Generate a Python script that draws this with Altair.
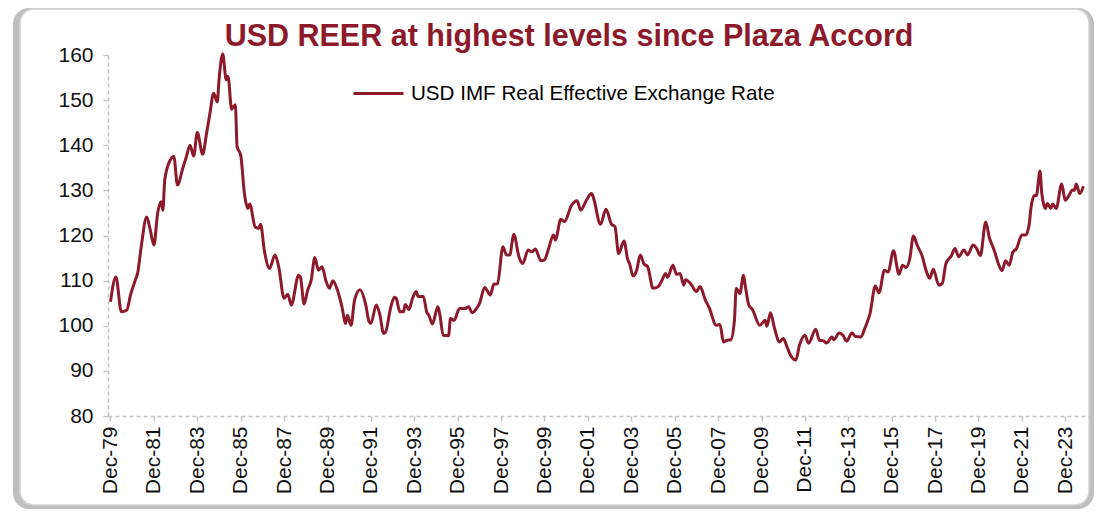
import altair as alt
import pandas as pd

# ---- data (months after Dec-1979, index value) ----
month_offsets = [
    0, 3, 6, 9, 11, 14, 15, 17, 20, 22, 24, 26, 28, 29, 30, 33, 35, 37, 40, 42, 44, 46, 48,
    51, 53, 55, 57, 59, 60, 62, 64, 65, 67, 69, 70, 72,
    74, 76, 77, 80, 82, 83, 85, 88, 91, 93, 96, 98, 100, 104, 105, 107, 109, 111, 113, 115,
    117, 119, 121, 123, 125, 128, 130, 131, 133, 135, 138, 141, 143, 144,
    147, 149, 151, 152, 155, 157, 158, 160, 162, 163, 165, 167, 169, 170, 173, 175, 176, 178,
    181, 182, 184, 187, 188, 190, 193, 196, 198, 200, 202, 204, 207, 210, 212, 214,
    217, 219, 221, 222, 223, 226, 228, 231, 233, 235, 238, 240, 242, 245, 246, 249, 251, 255,
    258, 260, 263, 266, 267, 271, 274, 277, 279, 281, 284, 286, 287,
    289, 291, 293, 295, 297, 300, 303, 305, 307, 308, 311, 313, 315, 317, 318, 321, 324, 326,
    329, 331, 335, 337, 339, 341, 343, 345, 346, 348, 350, 351, 353, 355, 359,
    362, 363, 365, 367, 370, 372, 374, 376, 379, 381, 384, 386, 390, 392, 394, 396, 399, 400,
    403, 405, 407, 410, 412, 415, 417, 420, 423, 425, 428, 430,
    433, 436, 438, 440, 442, 444, 446, 449, 451, 453, 455, 458, 460, 462, 465, 467, 469, 472,
    474, 477, 479, 481, 484, 486, 488, 489, 491, 493, 495, 497, 499, 501, 504, 506, 508, 509,
    511, 512, 514, 515, 517, 518, 520, 521, 523, 526, 528, 530, 532, 533, 534, 536, 538,
]
reer_values = [
    105.3, 110.8, 103.1, 103.5, 106.8, 110.5, 111.6, 117.5, 124.1, 121.2, 117.9, 124.9, 127.5,
    125.6, 132.3, 136.7, 137.5, 131.2, 134.9, 137.5, 140.0, 137.6, 142.8,
    138.0, 142.3, 147.1, 151.5, 149.6, 154.5, 160.2, 154.5, 155.3, 148.0, 149.0, 139.7, 137.8,
    129.3, 126.0, 127.0, 121.9, 121.6, 122.5, 116.8, 112.7, 115.7, 113.1, 106.1, 107.0, 104.6,
    111.2, 110.8, 104.8, 107.9, 110.1, 115.1, 112.3,
    113.1, 110.1, 108.3, 110.0, 108.5, 104.2, 100.5, 102.3, 100.1, 105.7, 108.0, 104.9, 100.9, 100.5,
    104.6, 102.4, 98.3, 98.5, 104.2, 106.3, 106.0, 103.1, 103.1, 104.7, 103.6, 106.1, 107.6,
    106.5, 106.5, 102.9, 102.4, 100.4,
    104.2, 102.7, 97.9, 97.8, 101.6, 101.2, 103.8, 103.8, 104.2, 102.9, 103.6, 104.9, 108.5,
    106.8, 109.2, 109.3,
    117.5, 115.7, 115.7, 118.3, 120.3, 115.1, 113.8, 116.8, 116.4, 117.0, 114.4, 114.6, 116.8,
    120.1, 119.0, 123.6, 123.1, 126.7,
    127.7, 125.6, 127.7, 129.3, 128.5, 122.5, 125.8, 122.5, 122.0, 116.0, 118.8, 114.7, 113.8,
    111.0, 112.3, 115.7, 113.7, 113.1, 108.3, 108.7, 110.1, 111.6, 110.7, 113.4, 111.4, 111.6,
    109.0, 110.2, 109.2, 107.6, 108.7,
    105.7, 104.1, 100.1, 100.3, 96.4, 96.8, 96.9, 101.2, 108.3, 107.1, 111.2, 109.0, 104.6,
    103.6, 100.1,
    101.2, 99.9, 102.9, 99.8, 96.4, 97.2, 95.4, 93.5, 92.4, 95.7, 97.9, 96.1, 99.2, 96.8, 96.7,
    96.2, 97.5, 96.9,
    98.4, 97.9, 96.6, 98.4, 97.6, 97.5, 99.3, 102.7, 108.8, 107.3, 112.3, 111.9,
    116.6, 111.4, 113.4, 112.9, 114.9, 119.9, 117.9, 115.3, 112.3, 110.5, 112.5, 109.0, 109.4,
    113.8, 115.5, 117.1, 115.3, 116.8,
    115.7, 117.9, 117.1, 115.5, 123.0, 119.5, 117.4, 116.3, 113.7, 112.2, 114.4, 113.4, 116.3,
    117.1, 120.1, 120.1, 122.3, 126.0,
    128.9, 128.8, 134.3, 129.3, 126.0, 127.1, 126.0, 127.0, 126.0, 131.4, 127.8, 128.9, 130.1,
    130.0, 131.4, 129.3, 130.9,
]
assert len(month_offsets) == len(reer_values)

tick_years = list(range(1979, 2024, 2))      # Dec-79, Dec-81, ... Dec-23
y_ticks = list(range(80, 161, 10))
series_name = "USD IMF Real Effective Exchange Rate"
title_text = "USD REER at highest levels since Plaza Accord"

base_date = pd.Timestamp("1979-12-01")
dates = [(base_date + pd.DateOffset(months=m)).strftime("%Y-%m-%d") for m in month_offsets]
df = pd.DataFrame({"date": dates, "value": reer_values, "series": series_name})

RED = "#8C1A2B"
FONT = "Liberation Sans"
W, H = 982, 361
GUIDE = "#C4C4C4"

one = pd.DataFrame({"k": [0]})

shadow = alt.Chart(one).mark_rect(cornerRadius=16, fill="#BEBEBE").encode(
    x=alt.value(-95), x2=alt.value(986), y=alt.value(-47), y2=alt.value(454)
)
card = alt.Chart(one).mark_rect(
    cornerRadius=14, fill="white", stroke="#D4D4D4", strokeWidth=1.5
).encode(
    x=alt.value(-88), x2=alt.value(981), y=alt.value(-46), y2=alt.value(450)
)

title = alt.Chart(one).mark_text(
    font=FONT, fontSize=30.5, fontWeight="bold", color=RED,
    align="center", baseline="alphabetic",
).encode(x=alt.value(461), y=alt.value(-9), text=alt.value(title_text))

axis_style = dict(
    zindex=1, grid=False, title=None,
    domainColor=GUIDE, domainDash=[4, 3], domainWidth=1.5,
    tickColor=GUIDE, tickSize=5, tickWidth=1.5,
    labelFont=FONT, labelColor="#111111",
)

line = alt.Chart(df).mark_line(strokeWidth=3, interpolate="monotone").encode(
    x=alt.X(
        "date:T",
        scale=alt.Scale(domain=[alt.DateTime(year=1979, month=10, date=20),
                                alt.DateTime(year=2025, month=1, date=20)]),
        axis=alt.Axis(
            values=[alt.DateTime(year=y, month=12, date=1) for y in tick_years],
            format="%b-%y", labelAngle=270, labelFontSize=21, labelPadding=5,
            labelOverlap=False, labelFlush=False, **axis_style,
        ),
    ),
    y=alt.Y(
        "value:Q",
        scale=alt.Scale(domain=[80, 160], nice=False, zero=False),
        axis=alt.Axis(values=y_ticks, labelFontSize=21, labelPadding=10, **axis_style),
    ),
    color=alt.Color(
        "series:N",
        scale=alt.Scale(range=[RED]),
        legend=alt.Legend(
            orient="none", legendX=244, legendY=12, title=None,
            symbolType="stroke", symbolSize=2500, symbolStrokeWidth=3,
            labelFontSize=20.6, labelFont=FONT, labelColor="#000000",
            labelOffset=6, padding=0, labelLimit=1000,
        ),
    ),
)

chart = alt.layer(shadow, card, line, title).properties(
    width=W, height=H,
    autosize=alt.AutoSizeParams(type="none"),
    padding={"left": 100, "top": 47, "right": 4, "bottom": 93},
    background="white",
).configure_view(stroke=None)

chart.save("out.html", embed_options={"renderer": "svg", "actions": False})
